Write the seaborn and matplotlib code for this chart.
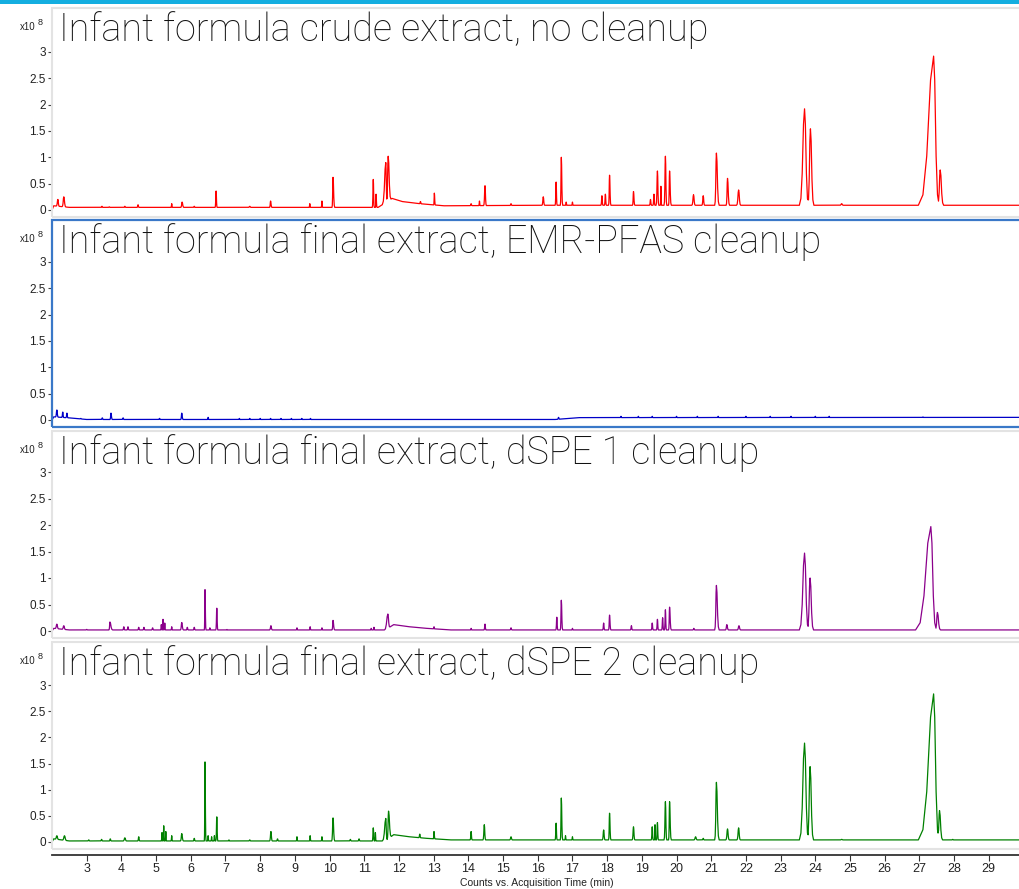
import numpy as np
import pandas as pd
import matplotlib
matplotlib.use('Agg')
import matplotlib.pyplot as plt
from matplotlib.patches import Rectangle
import seaborn as sns

sns.set_style('white')
plt.rcParams['font.family'] = ['Liberation Sans Narrow', 'Liberation Sans', 'DejaVu Sans']

W, H = 1020, 889

titles = ['Infant formula crude extract, no cleanup',
          'Infant formula final extract, EMR-PFAS cleanup',
          'Infant formula final extract, dSPE 1 cleanup',
          'Infant formula final extract, dSPE 2 cleanup']
colors = ['#ff0000', '#0000c8', '#8b008b', '#008000']

x_ticks = list(range(3, 30))
y_ticks = [0, 0.5, 1, 1.5, 2, 2.5, 3]
y_labels = ['0', '0.5', '1', '1.5', '2', '2.5', '3']

# peaks: (retention time, apex x1e8, left half-width, right half-width)
crude_peaks = [
    (2.17, 0.20, 0.05, 0.04), (2.34, 0.25, 0.05, 0.06), (3.44, 0.07, 0.03, 0.03),
    (3.65, 0.06, 0.03, 0.03), (4.1, 0.07, 0.03, 0.03), (4.48, 0.10, 0.03, 0.03),
    (5.45, 0.12, 0.02, 0.02), (5.75, 0.15, 0.04, 0.05), (6.1, 0.07, 0.03, 0.03),
    (6.73, 0.36, 0.03, 0.03), (7.7, 0.07, 0.04, 0.04), (8.3, 0.17, 0.03, 0.04),
    (9.43, 0.12, 0.02, 0.02), (9.78, 0.17, 0.02, 0.02), (10.1, 0.62, 0.03, 0.05),
    (11.26, 0.58, 0.03, 0.03), (11.34, 0.30, 0.02, 0.03), (11.62, 0.90, 0.10, 0.04),
    (11.69, 1.02, 0.05, 0.08), (12.62, 0.16, 0.03, 0.03), (13.02, 0.32, 0.02, 0.03),
    (14.08, 0.12, 0.03, 0.03), (14.32, 0.17, 0.02, 0.02), (14.48, 0.46, 0.04, 0.04),
    (15.23, 0.12, 0.03, 0.03), (15.5, 0.08, 0.02, 0.02), (16.16, 0.25, 0.04, 0.04),
    (16.53, 0.53, 0.03, 0.03), (16.68, 1.00, 0.03, 0.04), (16.82, 0.15, 0.02, 0.02),
    (17.0, 0.15, 0.02, 0.02), (17.85, 0.27, 0.03, 0.03), (17.95, 0.30, 0.03, 0.03),
    (18.07, 0.66, 0.03, 0.04), (18.76, 0.35, 0.03, 0.04), (19.25, 0.20, 0.03, 0.03),
    (19.35, 0.30, 0.03, 0.03), (19.45, 0.74, 0.04, 0.04), (19.55, 0.45, 0.02, 0.02),
    (19.68, 1.02, 0.04, 0.04), (19.8, 0.74, 0.03, 0.05), (20.49, 0.29, 0.05, 0.05),
    (20.77, 0.27, 0.04, 0.04), (21.15, 1.08, 0.05, 0.08), (21.47, 0.60, 0.04, 0.06),
    (21.79, 0.38, 0.06, 0.06), (23.69, 1.92, 0.15, 0.12), (23.86, 1.54, 0.08, 0.10),
    (24.76, 0.12, 0.05, 0.05), (27.41, 2.92, 0.44, 0.16), (27.6, 0.76, 0.07, 0.10),
]
crude_base_t = [2.0, 2.05, 2.5, 11.4, 11.8, 12.1, 12.6, 13.3, 16.0, 29.9]
crude_base_y = [0.0, 0.08, 0.05, 0.05, 0.22, 0.16, 0.12, 0.08, 0.09, 0.09]

emr_peaks = [
    (2.14, 0.19, 0.04, 0.04), (2.31, 0.15, 0.03, 0.03), (2.43, 0.13, 0.03, 0.03),
    (2.83, 0.03, 0.03, 0.03), (3.45, 0.04, 0.03, 0.03), (3.7, 0.13, 0.03, 0.04),
    (4.05, 0.04, 0.03, 0.03), (5.1, 0.03, 0.03, 0.03), (5.74, 0.13, 0.03, 0.04),
    (6.5, 0.05, 0.02, 0.02), (7.4, 0.03, 0.02, 0.02), (7.7, 0.03, 0.02, 0.02),
    (8.0, 0.03, 0.02, 0.02), (8.3, 0.03, 0.02, 0.02), (8.6, 0.03, 0.02, 0.02),
    (8.9, 0.03, 0.02, 0.02), (9.2, 0.03, 0.02, 0.02), (9.45, 0.03, 0.02, 0.02),
    (16.6, 0.05, 0.03, 0.03), (18.4, 0.07, 0.02, 0.02), (18.9, 0.07, 0.02, 0.02),
    (19.3, 0.07, 0.02, 0.02), (20.0, 0.07, 0.02, 0.02), (20.6, 0.07, 0.02, 0.02),
    (21.2, 0.07, 0.02, 0.02), (22.0, 0.07, 0.02, 0.02), (22.7, 0.07, 0.02, 0.02),
    (23.3, 0.07, 0.02, 0.02), (24.0, 0.07, 0.02, 0.02), (24.4, 0.07, 0.02, 0.02),
    (27.1, 0.06, 0.02, 0.02),
]
emr_base_t = [2.0, 2.05, 2.5, 3.0, 16.5, 17.2, 29.9]
emr_base_y = [0.0, 0.06, 0.04, 0.01, 0.01, 0.045, 0.05]

dspe1_peaks = [
    (2.14, 0.13, 0.05, 0.05), (2.34, 0.10, 0.05, 0.05), (3.0, 0.03, 0.03, 0.03),
    (3.67, 0.17, 0.03, 0.08), (4.07, 0.08, 0.03, 0.03), (4.19, 0.08, 0.03, 0.03),
    (4.5, 0.07, 0.03, 0.03), (4.65, 0.07, 0.03, 0.03), (4.9, 0.06, 0.03, 0.03),
    (5.15, 0.12, 0.02, 0.02), (5.2, 0.22, 0.02, 0.02), (5.25, 0.15, 0.02, 0.02),
    (5.45, 0.08, 0.02, 0.02), (5.74, 0.16, 0.04, 0.05), (5.9, 0.07, 0.03, 0.03),
    (6.1, 0.07, 0.03, 0.03), (6.41, 0.78, 0.02, 0.03), (6.55, 0.06, 0.02, 0.02),
    (6.75, 0.43, 0.03, 0.03), (7.04, 0.03, 0.02, 0.02), (8.31, 0.10, 0.04, 0.04),
    (9.06, 0.06, 0.02, 0.02), (9.44, 0.08, 0.02, 0.02), (9.78, 0.06, 0.02, 0.02),
    (10.1, 0.20, 0.03, 0.05), (11.2, 0.05, 0.02, 0.02), (11.28, 0.07, 0.02, 0.02),
    (11.68, 0.32, 0.10, 0.06), (13.01, 0.08, 0.02, 0.02), (14.08, 0.05, 0.02, 0.02),
    (14.48, 0.13, 0.03, 0.03), (15.23, 0.06, 0.03, 0.03), (16.55, 0.26, 0.03, 0.03),
    (16.68, 0.58, 0.03, 0.04), (17.0, 0.05, 0.02, 0.02), (17.9, 0.15, 0.03, 0.03),
    (18.07, 0.30, 0.03, 0.04), (18.7, 0.10, 0.03, 0.03), (19.3, 0.15, 0.03, 0.03),
    (19.45, 0.22, 0.03, 0.03), (19.6, 0.25, 0.03, 0.03), (19.68, 0.40, 0.03, 0.03),
    (19.8, 0.45, 0.03, 0.05), (20.5, 0.05, 0.03, 0.03), (21.15, 0.86, 0.05, 0.08),
    (21.45, 0.12, 0.04, 0.05), (21.8, 0.10, 0.05, 0.05), (23.69, 1.47, 0.15, 0.12),
    (23.85, 1.00, 0.08, 0.10), (27.33, 1.97, 0.44, 0.16), (27.52, 0.35, 0.06, 0.09),
]
dspe1_base_t = [2.0, 2.05, 2.5, 11.6, 11.85, 12.3, 12.8, 13.5, 29.9]
dspe1_base_y = [0.0, 0.05, 0.02, 0.02, 0.12, 0.08, 0.05, 0.02, 0.02]

dspe2_peaks = [
    (2.14, 0.12, 0.05, 0.05), (2.36, 0.12, 0.06, 0.06), (3.06, 0.04, 0.03, 0.03),
    (3.43, 0.05, 0.03, 0.03), (3.68, 0.06, 0.03, 0.03), (4.1, 0.08, 0.05, 0.05),
    (4.5, 0.10, 0.03, 0.03), (5.17, 0.18, 0.02, 0.02), (5.22, 0.31, 0.02, 0.02),
    (5.28, 0.20, 0.02, 0.02), (5.45, 0.12, 0.02, 0.02), (5.74, 0.16, 0.04, 0.05),
    (6.1, 0.07, 0.03, 0.03), (6.41, 1.53, 0.02, 0.03), (6.5, 0.12, 0.02, 0.02),
    (6.6, 0.10, 0.02, 0.02), (6.68, 0.12, 0.02, 0.02), (6.75, 0.48, 0.03, 0.03),
    (7.1, 0.04, 0.02, 0.02), (7.7, 0.04, 0.03, 0.03), (8.31, 0.20, 0.04, 0.04),
    (8.5, 0.06, 0.03, 0.03), (9.06, 0.10, 0.02, 0.02), (9.44, 0.12, 0.02, 0.02),
    (9.78, 0.10, 0.02, 0.02), (10.1, 0.46, 0.04, 0.05), (10.6, 0.05, 0.03, 0.03),
    (10.85, 0.06, 0.03, 0.03), (11.26, 0.27, 0.03, 0.03), (11.32, 0.18, 0.02, 0.02),
    (11.62, 0.45, 0.10, 0.04), (11.7, 0.59, 0.04, 0.08), (12.6, 0.15, 0.03, 0.03),
    (13.01, 0.20, 0.02, 0.03), (14.08, 0.20, 0.03, 0.03), (14.46, 0.33, 0.04, 0.04),
    (15.23, 0.10, 0.04, 0.04), (16.53, 0.36, 0.03, 0.03), (16.68, 0.84, 0.03, 0.04),
    (16.8, 0.12, 0.02, 0.02), (17.0, 0.10, 0.02, 0.02), (17.9, 0.23, 0.04, 0.04),
    (18.07, 0.55, 0.03, 0.04), (18.76, 0.29, 0.04, 0.04), (19.3, 0.29, 0.03, 0.03),
    (19.38, 0.33, 0.02, 0.02), (19.45, 0.37, 0.03, 0.03), (19.68, 0.77, 0.04, 0.04),
    (19.8, 0.77, 0.03, 0.05), (20.55, 0.10, 0.05, 0.05), (20.77, 0.07, 0.03, 0.03),
    (21.15, 1.14, 0.05, 0.08), (21.47, 0.25, 0.05, 0.05), (21.79, 0.27, 0.05, 0.05),
    (23.69, 1.89, 0.15, 0.12), (23.85, 1.44, 0.08, 0.10), (24.76, 0.05, 0.05, 0.05),
    (27.41, 2.83, 0.44, 0.16), (27.58, 0.60, 0.06, 0.09), (27.96, 0.05, 0.03, 0.03),
]
dspe2_base_t = [2.0, 2.05, 2.5, 11.6, 11.85, 12.3, 12.8, 13.5, 16.0, 29.9]
dspe2_base_y = [0.0, 0.06, 0.02, 0.02, 0.14, 0.10, 0.07, 0.04, 0.04, 0.04]

panels = [(crude_peaks, crude_base_t, crude_base_y),
          (emr_peaks, emr_base_t, emr_base_y),
          (dspe1_peaks, dspe1_base_t, dspe1_base_y),
          (dspe2_peaks, dspe2_base_t, dspe2_base_y)]

# rounded peak outline (fraction of half-width -> fraction of apex)
shape_x = [-1.0, -0.7, -0.45, -0.2, 0.0, 0.2, 0.45, 0.7, 1.0]
shape_y = [0.0, 0.07, 0.33, 0.84, 1.0, 0.84, 0.33, 0.07, 0.0]


def build_trace(peaks, bt, by):
    pts = set(bt)
    for r, h, wl, wr in peaks:
        pts.update(r + (s * wl if s < 0 else s * wr) for s in shape_x)
    t = np.array(sorted(p for p in pts if 2.0 <= p <= 29.9))
    base = np.interp(t, bt, by)
    env = np.zeros_like(t)
    for r, h, wl, wr in peaks:
        amp = h - np.interp(r, bt, by)
        u = np.where(t <= r, (t - r) / wl, (t - r) / wr)
        env = np.maximum(env, amp * np.interp(u, shape_x, shape_y, left=0, right=0))
    return pd.DataFrame({'time': t, 'counts': base + env})


fig = plt.figure(figsize=(W / 100, H / 100), dpi=100)

# pixel layout of the four panels
zero_px = [210, 420, 631, 842]
scale = [52.7, 52.7, 53.0, 52.33]
frame_top = [8, 220, 431, 642]
frame_bot = [217, 427, 638, 849]

fig.add_artist(Rectangle((0, 1 - 4 / H), 1, 4 / H, transform=fig.transFigure,
                         color='#14aee0', lw=0))

for i, (peaks, bt, by) in enumerate(panels):
    df = build_trace(peaks, bt, by)
    top_px = zero_px[i] - 168
    bot_px = zero_px[i] + 3
    ax = fig.add_axes([52 / W, 1 - bot_px / H, (W - 52) / W, (bot_px - top_px) / H])
    ax.patch.set_alpha(0)
    sns.lineplot(data=df, x='time', y='counts', ax=ax, color=colors[i], lw=0.9,
                 estimator=None, sort=False)
    ax.set_xlim(2.0, 29.9)
    ax.set_ylim(-3 / scale[i], 168 / scale[i])
    ax.set_yticks(y_ticks)
    ax.set_yticklabels(y_labels)
    ax.set_xlabel('')
    ax.set_ylabel('')
    for s in ['top', 'right']:
        ax.spines[s].set_visible(False)
    ax.spines['left'].set_color('#555555')
    ax.spines['left'].set_linewidth(1.2)
    ax.tick_params(axis='y', direction='out', length=3, width=0.8, color='#444444',
                   pad=1.5, labelsize=8.5, labelcolor='#222222', left=True)
    if i < 3:
        ax.spines['bottom'].set_visible(False)
        ax.set_xticks([])
    else:
        ax.set_xticks(x_ticks)
        ax.set_xticklabels([str(v) for v in x_ticks])
        ax.spines['bottom'].set_position(('outward', 7))
        ax.spines['bottom'].set_color('#333333')
        ax.spines['bottom'].set_linewidth(1.3)
        ax.tick_params(axis='x', direction='out', length=4, width=0.8, color='#333333',
                       pad=2, labelsize=9, labelcolor='#222222', bottom=True)

    # panel frame
    edge = '#3a78c8' if i == 1 else '#e3e3e3'
    lw = 1.6 if i == 1 else 1.5
    fig.add_artist(Rectangle((52 / W, 1 - frame_bot[i] / H), (W + 2 - 52) / W,
                             (frame_bot[i] - frame_top[i]) / H, transform=fig.transFigure,
                             fill=False, edgecolor=edge, lw=lw))

    fig.text(20 / W, 1 - (frame_top[i] + 22) / H, 'x10', fontsize=7, color='#222222',
             va='baseline', ha='left')
    fig.text(38 / W, 1 - (frame_top[i] + 17) / H, '8', fontsize=6.5, color='#222222',
             va='baseline', ha='left')
    fig.text(59 / W, 1 - (frame_top[i] + 33) / H, titles[i], fontsize=27.2,
             family=['Roboto', 'DejaVu Sans'], fontweight='light', color='#111111',
             va='baseline', ha='left')

fig.text(537 / W, 1 - 883 / H, 'Counts vs. Acquisition Time (min)', fontsize=7.5,
         color='#222222', ha='center', va='center')

plt.savefig('out.png', dpi=100)
